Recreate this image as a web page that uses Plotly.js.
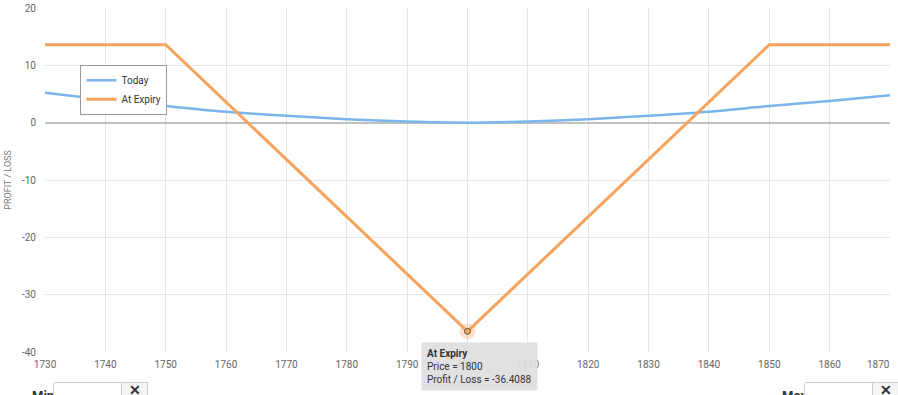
<!DOCTYPE html>
<html><head><meta charset="utf-8">
<script src="https://cdn.plot.ly/plotly-3.0.1.min.js"></script>
<style>
body{margin:0;padding:0;background:#fff;overflow:hidden;font-family:Roboto,sans-serif;}
#chart{width:898px;height:395px;position:absolute;left:0;top:0;z-index:1;}
.ctl{position:absolute;top:382px;height:30px;font-size:13px;color:#333;z-index:0;}
.ctl .lab{position:absolute;top:6px;font-weight:bold;}
.ctl .inp{position:absolute;top:0;height:28px;border:1px solid #ccc;border-radius:3px 0 0 3px;background:#fff;}
.ctl .btn{position:absolute;top:0;height:28px;border:1px solid #ccc;background:#f5f5f5;text-align:center;font-weight:bold;font-size:14px;line-height:14px;}
</style></head>
<body>
<div class="ctl" style="left:0;width:160px;"><span class="lab" style="left:32px;">Min</span><div class="inp" style="left:53px;width:68px;"></div><div class="btn" style="left:121px;width:25px;">✕</div></div>
<div class="ctl" style="left:760px;width:138px;"><span class="lab" style="left:22px;">Max</span><div class="inp" style="left:44px;width:68px;"></div><div class="btn" style="left:112px;width:25px;">✕</div></div>
<div id="chart"></div>
<script>
const todayPrice = [1730,1740,1750,1760,1770,1780,1790,1800,1810,1820,1830,1840,1850,1860,1870];
const todayPL    = [5.2,4.0,2.9,1.9,1.2,0.6,0.2,0.0,0.2,0.6,1.2,1.9,2.9,3.8,4.8];
const expiryPrice = [1730,1750,1800,1850,1870];
const expiryPL    = [13.6,13.6,-36.4088,13.6,13.6];
const hoverPrice = [1800];
const hoverPL = [-36.4088];
const xTicks = [1730,1740,1750,1760,1770,1780,1790,1800,1810,1820,1830,1840,1850,1860,1870];
const yTicks = [-40,-30,-20,-10,0,10,20];

const font = "Roboto, sans-serif";
const lastTick = xTicks[xTicks.length - 1];
const traces = [
 {x: todayPrice, y: todayPL, name: 'Today', mode: 'lines', line: {color: '#7cb5ec', width: 2.5, shape: 'spline'}, hoverinfo: 'skip'},
 {x: expiryPrice, y: expiryPL, name: 'At Expiry', mode: 'lines', line: {color: '#f7a35c', width: 3}, hoverinfo: 'skip'},
 {x: hoverPrice, y: hoverPL, mode: 'markers', showlegend: false, hoverinfo: 'skip',
  marker: {size: 16, color: 'rgba(247,163,92,0.3)'}},
 {x: hoverPrice, y: hoverPL, mode: 'markers', showlegend: false, hoverinfo: 'skip',
  marker: {size: 6, color: '#f7a35c', line: {color: '#555', width: 1}}}
];
const layout = {
 width: 898, height: 395,
 margin: {l: 45, r: 8, t: 8, b: 43},
 paper_bgcolor: 'rgba(0,0,0,0)', plot_bgcolor: '#fff',
 font: {family: font, size: 10, color: '#666'},
 showlegend: true,
 legend: {x: 0.042, y: 0.835, xanchor: 'left', yanchor: 'top', bgcolor: '#fff', bordercolor: '#999', borderwidth: 1,
   font: {size: 10, color: '#333'}, tracegroupgap: 0, itemwidth: 30},
 xaxis: {range: [1729.999, 1870.001], tickvals: xTicks, ticktext: xTicks.map(v => v === lastTick ? '' : String(v)), showgrid: true, gridcolor: '#e6e6e6',
   zeroline: false, showline: false, ticks: 'outside', ticklen: 3, tickcolor: 'rgba(0,0,0,0)',
   tickfont: {size: 10, color: '#666'}, fixedrange: true},
 yaxis: {range: [-40, 20], tickvals: yTicks, ticktext: yTicks.map(String), showgrid: true, gridcolor: '#e6e6e6',
   zeroline: true, zerolinecolor: '#c0c0c0', zerolinewidth: 2, ticks: 'outside', ticklen: 6, tickcolor: 'rgba(0,0,0,0)',
   title: {text: 'PROFIT / LOSS', font: {size: 9, color: '#777'}, standoff: 8}, tickfont: {size: 10, color: '#666'}, fixedrange: true},
 annotations: [{
   x: hoverPrice[0], y: hoverPL[0], xref: 'x', yref: 'y', showarrow: false,
   xanchor: 'left', yanchor: 'top', xshift: -47, yshift: -11, align: 'left',
   text: '<b>At Expiry</b><br>Price = ' + hoverPrice[0] + '<br>Profit / Loss = ' + hoverPL[0],
   font: {size: 10, color: '#333', family: font}, bgcolor: 'rgba(222,222,222,0.92)', borderpad: 5, bordercolor: 'rgba(0,0,0,0)'
 }, {
   x: lastTick, y: 0, xref: 'x', yref: 'paper', showarrow: false, xanchor: 'right', yanchor: 'top', yshift: -5, xshift: 2,
   text: String(lastTick), font: {size: 10, color: '#666', family: font}
 }]
};
Plotly.newPlot('chart', traces, layout, {displayModeBar: false, staticPlot: true});
</script>
</body></html>
